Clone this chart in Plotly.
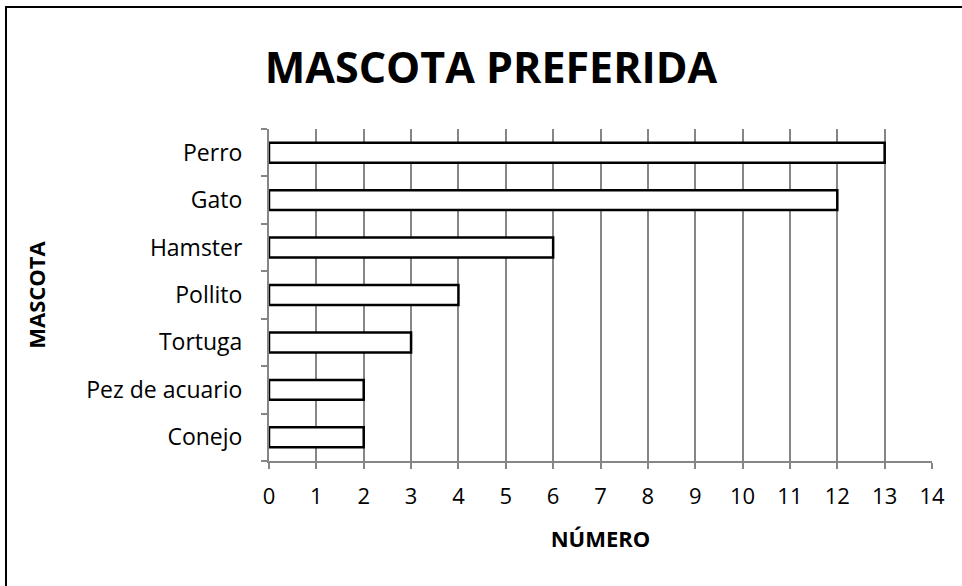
import plotly.graph_objects as go

# Data (bottom to top as drawn)
mascotas = ["Conejo", "Pez de acuario", "Tortuga", "Pollito", "Hamster", "Gato", "Perro"]
numero = [2, 2, 3, 4, 6, 12, 13]
x_ticks = list(range(0, 15))

GRID = "#868686"
FONT = "Open Sans"

# plot area in pixels: x 269..932, y 129..461
L, R, T, B = 269, 932, 129, 461
W, H = 962, 586


def px_x(p):
    return (p - L) / (R - L)


def px_y(p):
    return (B - p) / (B - T)


fig = go.Figure(
    go.Bar(
        x=numero,
        y=mascotas,
        orientation="h",
        width=0.42,
        marker=dict(color="white", line=dict(color="black", width=2.5)),
    )
)

fig.update_layout(
    width=W,
    height=H,
    margin=dict(l=L, r=W - R, t=T, b=H - B),
    paper_bgcolor="white",
    plot_bgcolor="white",
    showlegend=False,
    font=dict(family=FONT, color="black"),
    title=dict(
        text="<b>MASCOTA PREFERIDA</b>",
        x=491 / W, xref="container", xanchor="center",
        y=1 - 68 / H, yref="container", yanchor="middle",
        font=dict(family=FONT, size=43, color="black"),
    ),
    xaxis=dict(
        range=[0, 14],
        tickvals=x_ticks,
        showgrid=True, gridcolor=GRID, gridwidth=2,
        showline=True, linecolor=GRID, linewidth=2,
        ticks="outside", ticklen=6, tickcolor=GRID, tickwidth=2,
        tickfont=dict(size=22),
        ticklabelstandoff=9,
        zeroline=False,
        title=dict(text="<b>NÚMERO</b>", font=dict(size=22), standoff=22),
    ),
    yaxis=dict(
        range=[-0.5, 6.5],
        showline=True, linecolor=GRID, linewidth=2,
        ticks="outside", ticklen=6, tickcolor=GRID, tickwidth=2,
        tickson="boundaries",
        tickfont=dict(size=23),
        ticklabelstandoff=20,
        title=dict(text="<b>MASCOTA</b>", font=dict(size=22), standoff=34),
    ),
    shapes=[
        dict(type="line", xref="paper", yref="paper",
             x0=px_x(5), x1=px_x(962), y0=px_y(7), y1=px_y(7),
             line=dict(color="black", width=2)),
        dict(type="line", xref="paper", yref="paper",
             x0=px_x(6), x1=px_x(6), y0=px_y(7), y1=px_y(586),
             line=dict(color="black", width=2)),
    ],
)

fig.write_html(
    "out.html",
    config={"displayModeBar": False},
    post_script="document.body.style.margin = '0';",
)
